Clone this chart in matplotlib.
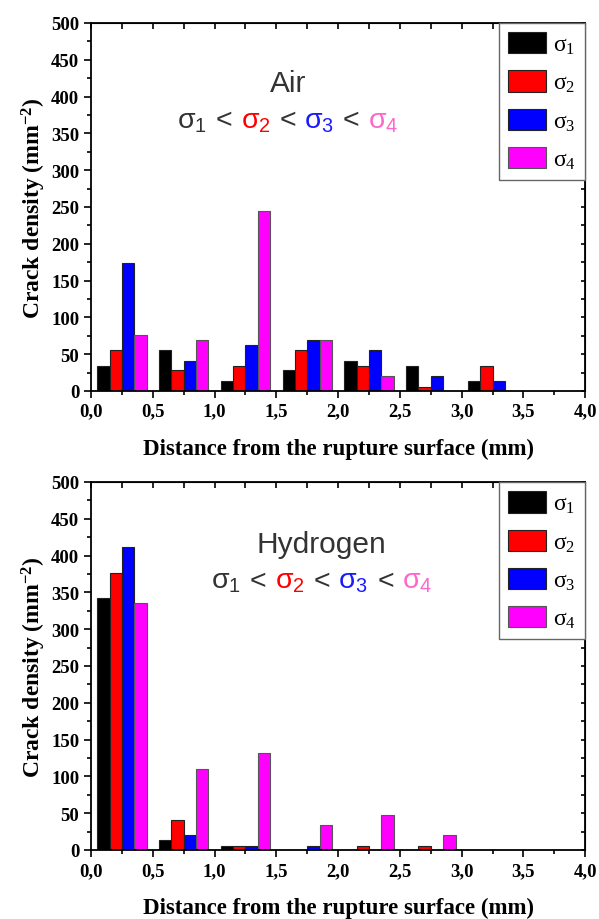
import matplotlib
matplotlib.use('Agg')
import matplotlib.pyplot as plt
import matplotlib.transforms as mtransforms
from matplotlib.ticker import MultipleLocator, FuncFormatter
import numpy as np

# Air: group centres (mm) and crack densities for each stress level
air_centres = [0.25, 0.75, 1.25, 1.75, 2.25, 2.75, 3.25]
air_s1 = [34, 55, 13, 28, 41, 34, 13]
air_s2 = [55, 28, 34, 55, 34, 6, 34]
air_s3 = [174, 41, 62, 69, 55, 20, 13]
air_s4 = [76, 69, 244, 69, 20, 0, 0]

# Hydrogen
h2_centres = [0.25, 0.75, 1.25, 1.75, 2.25, 2.75]
h2_s1 = [342, 13, 5, 0, 0, 0]
h2_s2 = [376, 41, 5, 0, 5, 5]
h2_s3 = [412, 20, 5, 5, 0, 0]
h2_s4 = [335, 110, 132, 34, 47, 20]

labels = ['σ$\\mathdefault{_1}$', 'σ$\\mathdefault{_2}$',
          'σ$\\mathdefault{_3}$', 'σ$\\mathdefault{_4}$']
bar_colors = ['#000000', '#ff0000', '#0000ff', '#ff00ff']
text_colors = ['#333333', '#ff0000', '#1a1aff', '#ff66cc']

serif = 'Liberation Serif'
sans = 'Liberation Sans'


def colored_line(fig, ax, xc, yb, size):
    # draw "σ1 < σ2 < σ3 < σ4" with each sigma in its own colour, centred at xc
    parts = []
    for i in range(4):
        parts.append(('σ$\\mathdefault{_%d}$' % (i + 1), text_colors[i]))
        if i < 3:
            parts.append(('<', '#333333'))
    r = fig.canvas.get_renderer()
    gap = size * 0.42
    texts = []
    widths = []
    for s, c in parts:
        t = ax.text(0, 0, s, color=c, fontsize=size, family=sans,
                    ha='left', va='baseline', transform=ax.transAxes)
        widths.append(t.get_window_extent(r).width)
        texts.append(t)
    total = sum(widths) + gap * (len(parts) - 1)
    x0 = ax.transAxes.transform((xc, yb))
    x = x0[0] - total / 2
    for t, w in zip(texts, widths):
        t.set_transform(mtransforms.IdentityTransform())
        t.set_position((x, x0[1]))
        x += w + gap


def panel(fig, ax, centres, series, title, tx, ty, sy):
    offsets = [-0.15, -0.05, 0.05, 0.15]
    for vals, off, col, lab in zip(series, offsets, bar_colors, labels):
        ax.bar(np.array(centres) + off, vals, width=0.1, color=col,
               edgecolor='#222222' if col != '#ff00ff' else '#555555',
               linewidth=0.8, label=lab)
    ax.set_xlim(0, 4)
    ax.set_ylim(0, 500)
    ax.xaxis.set_major_locator(MultipleLocator(0.5))
    ax.xaxis.set_minor_locator(MultipleLocator(0.25))
    ax.yaxis.set_major_locator(MultipleLocator(50))
    ax.yaxis.set_minor_locator(MultipleLocator(25))
    ax.xaxis.set_major_formatter(FuncFormatter(lambda v, p: ('%.1f' % v).replace('.', ',')))
    ax.tick_params(which='both', direction='out', top=False, right=False, width=1.2)
    ax.tick_params(which='major', length=5)
    ax.tick_params(which='minor', length=3)
    for lab in ax.get_xticklabels() + ax.get_yticklabels():
        lab.set_fontfamily(serif)
        lab.set_fontweight('bold')
        lab.set_fontsize(13.5)
    # inward ticks on the top and right edges
    sec = ax.secondary_xaxis('top')
    sec.xaxis.set_major_locator(MultipleLocator(0.5))
    sec.xaxis.set_minor_locator(MultipleLocator(0.25))
    sec.tick_params(which='both', direction='in', length=4, width=1.2, labeltop=False)
    sec2 = ax.secondary_yaxis('right')
    sec2.yaxis.set_major_locator(MultipleLocator(50))
    sec2.yaxis.set_minor_locator(MultipleLocator(25))
    sec2.tick_params(which='both', direction='in', length=3, width=1.2, labelright=False)
    for sp in ax.spines.values():
        sp.set_linewidth(1.3)
    ax.set_xlabel('Distance from the rupture surface (mm)', fontfamily=serif,
                  fontweight='bold', fontsize=16.5, labelpad=13)
    ax.set_ylabel('Crack density (mm$\\mathdefault{^{-2}}$)', fontfamily=serif,
                  fontweight='bold', fontsize=17, labelpad=2)
    leg = ax.legend(loc='upper right', borderaxespad=0, fancybox=False,
                    prop={'family': serif, 'size': 17}, handlelength=1.6,
                    handleheight=1.0, labelspacing=0.6, borderpad=0.4,
                    handletextpad=0.3, edgecolor='#666666', framealpha=1)
    leg.get_frame().set_linewidth(1.0)
    ax.text(tx, ty, title, transform=ax.transAxes, ha='center', va='baseline',
            fontsize=21.5, family=sans, color='#333333')
    colored_line(fig, ax, tx, sy, 20.5)


fig = plt.figure(figsize=(5.99, 9.2), dpi=100)
ax1 = fig.add_axes([0.152, 0.574, 0.825, 0.4])
ax2 = fig.add_axes([0.152, 0.075, 0.825, 0.4])

panel(fig, ax1, air_centres, [air_s1, air_s2, air_s3, air_s4], 'Air',
      0.398, 0.815, 0.717)
panel(fig, ax2, h2_centres, [h2_s1, h2_s2, h2_s3, h2_s4], 'Hydrogen',
      0.467, 0.81, 0.712)

fig.savefig('out.png', dpi=100)
